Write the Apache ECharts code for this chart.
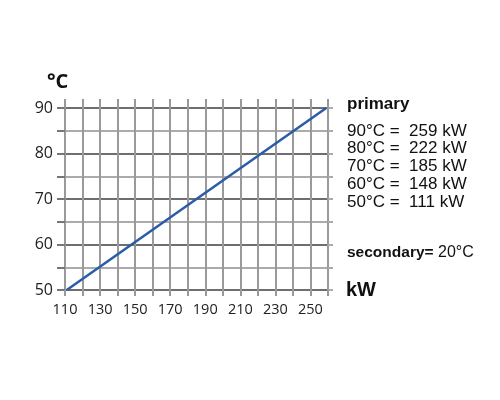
<!DOCTYPE html>
<html>
<head>
<meta charset="utf-8">
<script src="https://cdn.jsdelivr.net/npm/echarts@6/dist/echarts.min.js"></script>
<style>
  html, body { margin: 0; padding: 0; background: #fff; }
  #main { width: 500px; height: 400px; }
</style>
</head>
<body>
<div id="main"></div>
<script>
var myChart = echarts.init(document.getElementById("main"));

// primary temperature -> power
var tempC = [50, 60, 70, 80, 90];
var powerKW = [111, 148, 185, 222, 259];
var xLabels = [110, 130, 150, 170, 190, 210, 230, 250];
var yLabels = [50, 60, 70, 80, 90];
var secondaryC = 20;

var lineData = powerKW.map(function (p, i) {
  return [p, tempC[i]];
});

var legendLines = [];
for (var i = tempC.length - 1; i >= 0; i--) {
  legendLines.push(tempC[i] + "°C =  " + powerKW[i] + " kW");
}

var labelFont = "Open Sans";

option = {
  animation: false,
  grid: {
    left: 65,
    right: 172,
    top: 108,
    bottom: 110
  },
  xAxis: [
    {
      type: "value",
      min: 110,
      max: 260,
      interval: 10,
      axisLine: { show: false },
      axisTick: {
        show: true,
        length: 6,
        lineStyle: { color: "#999", width: 2 }
      },
      axisLabel: {
        color: "#222",
        fontFamily: labelFont,
        fontSize: 14.5,
        margin: 12,
        formatter: function (v) {
          return xLabels.indexOf(v) >= 0 ? String(v) : "";
        }
      },
      splitLine: {
        show: true,
        lineStyle: { color: "#9a9a9a", width: 2 }
      }
    },
    {
      type: "value",
      position: "top",
      min: 110,
      max: 260,
      interval: 10,
      axisLine: { show: false },
      axisTick: {
        show: true,
        length: 9,
        lineStyle: { color: "#999", width: 2 }
      },
      axisLabel: { show: false },
      splitLine: { show: false }
    }
  ],
  yAxis: [
    {
      type: "value",
      min: 50,
      max: 90,
      interval: 5,
      axisLine: { show: false },
      axisTick: {
        show: true,
        length: 8,
        lineStyle: { color: "#777", width: 2 }
      },
      axisLabel: {
        color: "#222",
        fontFamily: labelFont,
        fontSize: 16,
        margin: 12,
        formatter: function (v) {
          return yLabels.indexOf(v) >= 0 ? String(v) : "";
        }
      },
      splitLine: {
        show: true,
        lineStyle: { color: ["#6e6e6e", "#ababab"], width: 2 }
      }
    },
    {
      type: "value",
      position: "right",
      min: 50,
      max: 90,
      interval: 5,
      axisLine: { show: false },
      axisTick: {
        show: true,
        length: 5,
        lineStyle: { color: "#aaa", width: 2 }
      },
      axisLabel: { show: false },
      splitLine: { show: false }
    }
  ],
  graphic: [
    {
      type: "text",
      left: 47,
      top: 72,
      style: {
        text: "°C",
        font: "bold 20px 'Open Sans'",
        fill: "#111"
      }
    },
    {
      type: "text",
      left: 346,
      top: 280,
      style: {
        text: "kW",
        font: "bold 20px 'Liberation Sans'",
        fill: "#111"
      }
    },
    {
      type: "text",
      left: 347,
      top: 96,
      style: {
        text: "primary",
        font: "bold 17px 'Liberation Sans'",
        fill: "#111"
      }
    },
    {
      type: "text",
      left: 347,
      top: 122,
      style: {
        text: legendLines.join("\n"),
        font: "17px 'Liberation Sans'",
        lineHeight: 17.8,
        fill: "#111"
      }
    },
    {
      type: "text",
      left: 347,
      top: 245,
      style: {
        text: "{b|secondary=} {n|" + secondaryC + "°C}",
        rich: {
          b: { font: "bold 15.5px 'Liberation Sans'", fill: "#111" },
          n: { font: "16px 'Liberation Sans'", fill: "#111" }
        },
        font: "16px 'Liberation Sans'",
        fill: "#111"
      }
    }
  ],
  series: [
    {
      type: "line",
      data: lineData,
      symbol: "none",
      lineStyle: { color: "#2a5ca8", width: 2.5 }
    }
  ]
};

myChart.setOption(option);
</script>
</body>
</html>
